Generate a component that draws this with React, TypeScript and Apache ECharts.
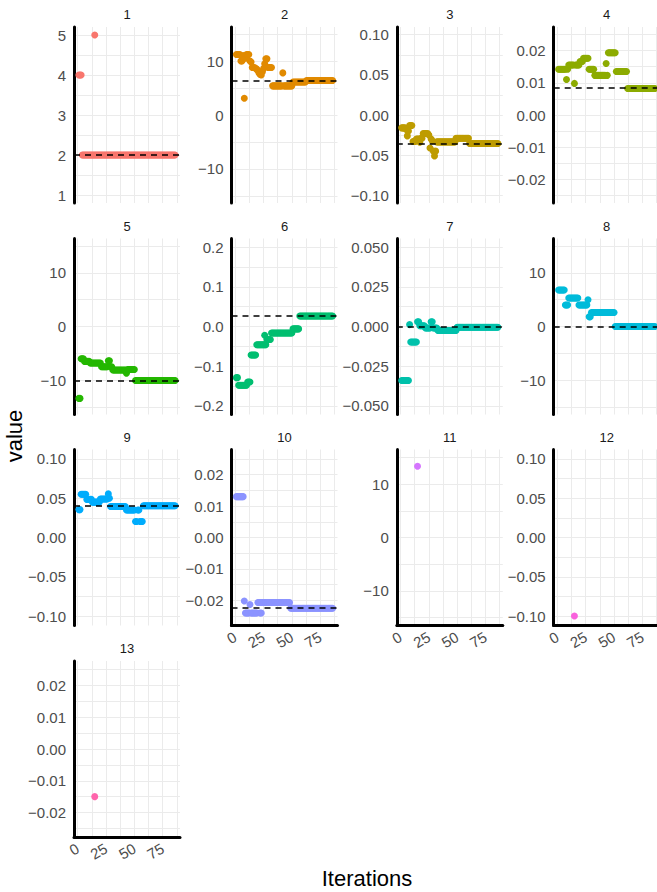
import { useEffect, useRef } from "react";
import * as echarts from "echarts";

// ---------- data ----------
const panelNames = ["1", "2", "3", "4", "5", "6", "7", "8", "9", "10", "11", "12", "13"];
const panelColors = [
  "#F8766D", "#E18A00", "#BE9C00", "#8CAB00", "#24B700", "#00BE70", "#00C1AB",
  "#00BBDA", "#00ACFC", "#8B93FF", "#D575FE", "#F962DD", "#FF65AC",
];

// value per iteration (iteration = position + 1)
const p1 = [
  4, 4, 4, 2, 2, 2, 2, 2, 2, 2,
  2, 2, 2, 2, 2, 2, 2, 2, 2, 2,
  2, 2, 2, 2, 2, 2, 2, 2, 2, 2,
  2, 2, 2, 2, 2, 2, 2, 2, 2, 2,
  2, 2, 2, 2, 2, 2, 2, 2, 2, 2,
  2, 2, 2, 2, 2, 2, 2, 2, 2, 2,
  2, 2, 2, 2, 2, 2, 2, 2, 2, 2,
  2, 2, 2, 2, 2, 2, 2, 2, 2, 2,
  2, 2, 2, 2, 2, 2,
];
const p2 = [
  11.2, 11.2, 11.2, 11.2, 10, 10, 11, 3.1, 10.5, 11.2,
  11.2, 11.2, 10, 9.8, 8.8, 8.8, 8.8, 8.6, 8.5, 8.2,
  7.8, 7.5, 7.4, 8, 8.6, 9.5, 10.4, 10.4, 8.8, 8.8,
  8.8, 8.8, 5.4, 5.4, 5.4, 5.4, 5.4, 5.4, 5.4, 5.4,
  5.4, 7.8, 5.4, 5.4, 5.4, 5.4, 5.4, 5.4, 5.4, 5.4,
  6.1, 6.1, 6.1, 6.1, 6.1, 6.1, 6.1, 6.1, 6.1, 6.1,
  6.1, 6.1, 6.4, 6.4, 6.4, 6.4, 6.4, 6.4, 6.4, 6.4,
  6.4, 6.4, 6.4, 6.4, 6.4, 6.4, 6.4, 6.4, 6.4, 6.4,
  6.4, 6.4, 6.4, 6.4, 6.4, 6.4,
];
const p3 = [
  -0.016, -0.016, -0.016, -0.016, -0.018, -0.026, -0.02, -0.013, -0.013, -0.013,
  -0.033, -0.033, -0.033, -0.03, -0.03, -0.03, -0.034, -0.029, -0.029, -0.023,
  -0.023, -0.023, -0.023, -0.023, -0.025, -0.041, -0.03, -0.032, -0.045, -0.051,
  -0.045, -0.0335, -0.0335, -0.0335, -0.0335, -0.0335, -0.0335, -0.0335, -0.0335, -0.0335,
  -0.0335, -0.0335, -0.0335, -0.0335, -0.0335, -0.0335, -0.0335, -0.0335, -0.029, -0.029,
  -0.029, -0.029, -0.029, -0.029, -0.029, -0.029, -0.029, -0.029, -0.029, -0.029,
  -0.0355, -0.0355, -0.0355, -0.0355, -0.0355, -0.0355, -0.0355, -0.0355, -0.0355, -0.0355,
  -0.0355, -0.0355, -0.0355, -0.0355, -0.0355, -0.0355, -0.0355, -0.0355, -0.0355, -0.0355,
  -0.0355, -0.0355, -0.0355, -0.0355, -0.0355, -0.0355,
];
const p4 = [
  0.0142, 0.0142, 0.0142, 0.0142, 0.0142, 0.0142, 0.0142, 0.011, 0.0142, 0.0155,
  0.0155, 0.0155, 0.0155, 0.0155, 0.0098, 0.0155, 0.0155, 0.0155, 0.0155, 0.0166,
  0.0166, 0.0166, 0.0176, 0.0176, 0.0176, 0.0176, 0.0176, 0.0142, 0.0142, 0.0142,
  0.0142, 0.0142, 0.0123, 0.0123, 0.0123, 0.0123, 0.0123, 0.0123, 0.0123, 0.0123,
  0.0123, 0.0123, 0.016, 0.0123, 0.0193, 0.0193, 0.0193, 0.0193, 0.0193, 0.0193,
  0.0193, 0.0135, 0.0135, 0.0135, 0.0135, 0.0135, 0.0135, 0.0135, 0.0135, 0.0135,
  0.0135, 0.0082, 0.0082, 0.0082, 0.0082, 0.0082, 0.0082, 0.0082, 0.0082, 0.0082,
  0.0082, 0.0082, 0.0082, 0.0082, 0.0082, 0.0082, 0.0082, 0.0082, 0.0082, 0.0082,
  0.0082, 0.0082, 0.0082, 0.0082, 0.0082, 0.0082,
];
const p5 = [
  -13.4, -13.4, -6, -6, -6, -6.5, -6.5, -6.5, -6.5, -6.5,
  -6.8, -6.8, -6.8, -6.8, -6.8, -6.8, -6.8, -6.8, -6.8, -6.8,
  -7.5, -7.5, -7.5, -7.5, -7.5, -7.5, -6.4, -6.4, -7.5, -7.5,
  -8.1, -8.1, -8.1, -8.1, -8.1, -8.1, -8.1, -8.1, -8.1, -8.1,
  -8.1, -8.1, -8.7, -8, -8, -8, -8, -8, -8, -8,
  -10.05, -10.05, -10.05, -10.05, -10.05, -10.05, -10.05, -10.05, -10.05, -10.05,
  -10.05, -10.05, -10.05, -10.05, -10.05, -10.05, -10.05, -10.05, -10.05, -10.05,
  -10.05, -10.05, -10.05, -10.05, -10.05, -10.05, -10.05, -10.05, -10.05, -10.05,
  -10.05, -10.05, -10.05, -10.05, -10.05, -10.05,
];
const p6 = [
  -0.129, -0.129, -0.148, -0.148, -0.148, -0.148, -0.148, -0.148, -0.148, -0.148,
  -0.14, -0.14, -0.14, -0.072, -0.072, -0.072, -0.072, -0.072, -0.046, -0.046,
  -0.046, -0.046, -0.046, -0.046, -0.046, -0.046, -0.046, -0.033, -0.033, -0.033,
  -0.033, -0.0165, -0.0165, -0.0165, -0.0165, -0.0165, -0.0165, -0.0165, -0.0165, -0.0165,
  -0.0165, -0.0165, -0.0165, -0.0165, -0.0165, -0.0165, -0.0165, -0.0165, -0.0165, -0.0165,
  -0.006, -0.006, -0.006, -0.006, -0.006, -0.006, 0.0266, 0.0266, 0.0266, 0.0266,
  0.0266, 0.0266, 0.0266, 0.0266, 0.0266, 0.0266, 0.0266, 0.0266, 0.0266, 0.0266,
  0.0266, 0.0266, 0.0266, 0.0266, 0.0266, 0.0266, 0.0266, 0.0266, 0.0266, 0.0266,
  0.0266, 0.0266, 0.0266, 0.0266, 0.0266, 0.0266,
];
const p7 = [
  -0.034, -0.034, -0.034, -0.034, -0.034, -0.034, -0.034, 0.0012, -0.0098, -0.0098,
  -0.0098, -0.0098, -0.0098, -0.0098, 0.003, 0.003, 0.0005, 0.0005, 0.0005, 0.0005,
  0.0005, -0.001, -0.001, -0.001, -0.001, -0.001, 0.003, 0.003, -0.001, -0.001,
  -0.001, -0.001, -0.0025, -0.0025, -0.0025, -0.0025, -0.0025, -0.0025, -0.0025, -0.0025,
  -0.0025, -0.0025, -0.0025, -0.0025, -0.0025, -0.0025, -0.0025, -0.0025, -0.0025, -0.0005,
  -0.0005, -0.0005, -0.0005, -0.0005, -0.0005, -0.0005, -0.0005, -0.0005, -0.0005, -0.0005,
  -0.0005, -0.0005, -0.0005, -0.0005, -0.0005, -0.0005, -0.0005, -0.0005, -0.0005, -0.0005,
  -0.0005, -0.0005, -0.0005, -0.0005, -0.0005, -0.0005, -0.0005, -0.0005, -0.0005, -0.0005,
  -0.0005, -0.0005, -0.0005, -0.0005, -0.0005, -0.0005,
];
const p8 = [
  6.8, 6.8, 6.8, 6.8, 6.8, 6.8, 4, 4, 4, 5.3,
  5.3, 5.3, 5.3, 5.3, 5.3, 5.3, 5.3, 5.3, 4, 4,
  4, 4, 4, 4, 4, 4, 5, 1.8, 1.8, 2.6,
  2.6, 2.6, 2.6, 2.6, 2.6, 2.6, 2.6, 2.6, 2.6, 2.6,
  2.6, 2.6, 2.6, 2.6, 2.6, 2.6, 2.6, 2.6, 2.6, 2.6,
  0, 0, 0, 0, 0, 0, 0, 0, 0, 0,
  0, 0, 0, 0, 0, 0, 0, 0, 0, 0,
  0, 0, 0, 0, 0, 0, 0, 0, 0, 0,
  0, 0, 0, 0, 0, 0,
];
const p9 = [
  0.0355, 0.0355, 0.055, 0.055, 0.055, 0.055, 0.055, 0.0485, 0.0485, 0.0485,
  0.0485, 0.0485, 0.045, 0.045, 0.045, 0.045, 0.045, 0.045, 0.045, 0.049,
  0.049, 0.049, 0.049, 0.049, 0.049, 0.049, 0.0555, 0.05, 0.0395, 0.0395,
  0.0395, 0.0395, 0.0395, 0.0395, 0.0395, 0.0395, 0.0395, 0.0395, 0.0395, 0.0395,
  0.0395, 0.0395, 0.035, 0.035, 0.035, 0.035, 0.035, 0.035, 0.035, 0.035,
  0.0204, 0.0204, 0.035, 0.035, 0.0204, 0.0204, 0.0204, 0.0405, 0.0405, 0.0405,
  0.0405, 0.0405, 0.0405, 0.0405, 0.0405, 0.0405, 0.0405, 0.0405, 0.0405, 0.0405,
  0.0405, 0.0405, 0.0405, 0.0405, 0.0405, 0.0405, 0.0405, 0.0405, 0.0405, 0.0405,
  0.0405, 0.0405, 0.0405, 0.0405, 0.0405, 0.0405,
];
const p10 = [
  0.013, 0.013, 0.013, 0.013, 0.013, 0.013, 0.013, -0.0202, -0.024, -0.024,
  -0.024, -0.024, -0.0213, -0.024, -0.024, -0.024, -0.024, -0.024, -0.024, -0.0207,
  -0.0207, -0.0207, -0.0207, -0.0207, -0.0207, -0.0207, -0.0207, -0.0207, -0.0207, -0.0207,
  -0.0207, -0.0207, -0.0207, -0.0207, -0.0207, -0.0207, -0.0207, -0.0207, -0.0207, -0.0207,
  -0.0207, -0.0207, -0.0207, -0.0207, -0.0207, -0.0207, -0.0207, -0.0207, -0.0225, -0.0225,
  -0.0225, -0.0225, -0.0225, -0.0225, -0.0225, -0.0225, -0.0225, -0.0225, -0.0225, -0.0225,
  -0.0225, -0.0225, -0.0225, -0.0225, -0.0225, -0.0225, -0.0225, -0.0225, -0.0225, -0.0225,
  -0.0225, -0.0225, -0.0225, -0.0225, -0.0225, -0.0225, -0.0225, -0.0225, -0.0225, -0.0225,
  -0.0225, -0.0225, -0.0225, -0.0225, -0.0225, -0.0225,
];
const p11: number[] = [];
const p12: number[] = [];
const p13: number[] = [];

// additional [iteration, value] points
const p1Extra = [[15, 5]];
const p6Extra = [[26, -0.022]];
const p10Extra = [[22, -0.024], [23, -0.024]];
const p11Extra = [[15, 13.35]];
const p12Extra = [[15, -0.1]];
const p13Extra = [[15, -0.015]];

const panelValues = [p1, p2, p3, p4, p5, p6, p7, p8, p9, p10, p11, p12, p13];
const panelExtras: number[][][] = [p1Extra, [], [], [], [], p6Extra, [], [], [], p10Extra, p11Extra, p12Extra, p13Extra];

// dashed reference line per panel (null = none)
const refValues = [2, 6.4, -0.0357, 0.0083, -10.05, 0.0266, -0.0003, 0, 0.0402, -0.0225, null, null, null];

// y ranges
const yMins = [0.8, -16.3, -0.1096, -0.0273, -16.4, -0.222, -0.0554, -16.4, -0.112, -0.028, -16.5, -0.112, -0.0277];
const yMaxs = [5.2, 16.3, 0.1096, 0.0273, 16.4, 0.222, 0.0554, 16.4, 0.112, 0.028, 16.5, 0.112, 0.0277];

// tick labels
const yLabelsA = [1, 2, 3, 4, 5];
const yLabelsTens = [-10, 0, 10];
const yLabelsTenth = [-0.1, -0.05, 0, 0.05, 0.1];
const yLabelsHund = [-0.02, -0.01, 0, 0.01, 0.02];
const yLabelsP6 = [-0.2, -0.1, 0, 0.1, 0.2];
const yLabelsP7 = [-0.05, -0.025, 0, 0.025, 0.05];
const yTickLabels = [yLabelsA, yLabelsTens, yLabelsTenth, yLabelsHund, yLabelsTens, yLabelsP6, yLabelsP7,
  yLabelsTens, yLabelsTenth, yLabelsHund, yLabelsTens, yLabelsTenth, yLabelsHund];
const yDecimals = [0, 0, 2, 2, 0, 1, 3, 0, 2, 2, 0, 2, 2];

// grid line values (major + minor)
const yGridA = [1, 1.5, 2, 2.5, 3, 3.5, 4, 4.5, 5];
const yGridTens = [-15, -10, -5, 0, 5, 10, 15];
const yGridTenth = [-0.1, -0.075, -0.05, -0.025, 0, 0.025, 0.05, 0.075, 0.1];
const yGridHund = [-0.025, -0.02, -0.015, -0.01, -0.005, 0, 0.005, 0.01, 0.015, 0.02, 0.025];
const yGridP6 = [-0.2, -0.15, -0.1, -0.05, 0, 0.05, 0.1, 0.15, 0.2];
const yGridP7 = [-0.05, -0.0375, -0.025, -0.0125, 0, 0.0125, 0.025, 0.0375, 0.05];
const yGridValues = [yGridA, yGridTens, yGridTenth, yGridHund, yGridTens, yGridP6, yGridP7,
  yGridTens, yGridTenth, yGridHund, yGridTens, yGridTenth, yGridHund];

const xTickLabels = [0, 25, 50, 75];
const xGridValues = [0, 12.5, 25, 37.5, 50, 62.5, 75, 87.5];
const X_MIN = -3.3;
const X_MAX = 90.3;

// ---------- layout ----------
const COL_LEFT = [74, 231.5, 396.8, 553.7];
const ROW_TOP = [27, 238.5, 449.5, 661];
const PW = 106;
const PH = 176;
const FONT = '"Liberation Sans", Arial, Helvetica, sans-serif';

function fmt(v: number, d: number) {
  const s = Math.abs(v).toFixed(d);
  return v < 0 && Math.abs(v) > 1e-12 ? "\u2212" + s : s;
}

export default function App() {
  const ref = useRef<HTMLDivElement>(null);

  useEffect(() => {
    if (!ref.current) return;
    const chart = echarts.init(ref.current, null, { renderer: "svg" });

    const grid: any[] = [];
    const xAxis: any[] = [];
    const yAxis: any[] = [];
    const series: any[] = [];
    const graphic: any[] = [];

    for (let i = 0; i < panelNames.length; i++) {
      const row = Math.floor(i / 4);
      const col = i % 4;
      const left = COL_LEFT[col];
      const top = ROW_TOP[row];
      const bottomPanel = i >= 9;

      grid.push({ left, top, width: PW, height: PH, containLabel: false, outerBoundsMode: "none" });

      xAxis.push({
        type: "value",
        gridIndex: i,
        min: X_MIN,
        max: X_MAX,
        axisLine: { show: bottomPanel, onZero: false, lineStyle: { color: "#000", width: 3 } },
        axisTick: { show: false, customValues: xGridValues },
        axisLabel: bottomPanel
          ? {
              show: true,
              customValues: xTickLabels,
              rotate: 30,
              margin: 10,
              color: "#4d4d4d",
              fontSize: 15,
              fontFamily: FONT,
              formatter: (v: number) => fmt(v, 0),
            }
          : { show: false },
        splitLine: { show: true, lineStyle: { color: "#ebebeb", width: 1 } },
      });

      const dec = yDecimals[i];
      yAxis.push({
        type: "value",
        gridIndex: i,
        min: yMins[i],
        max: yMaxs[i],
        axisLine: { show: true, onZero: false, lineStyle: { color: "#000", width: 3 } },
        axisTick: { show: false, customValues: yGridValues[i] },
        axisLabel: {
          show: true,
          customValues: yTickLabels[i],
          margin: 8,
          color: "#4d4d4d",
          fontSize: 15,
          fontFamily: FONT,
          formatter: (v: number) => fmt(v, dec),
        },
        splitLine: { show: true, lineStyle: { color: "#ebebeb", width: 1 } },
      });

      const data: number[][] = [];
      panelValues[i].forEach((v, k) => data.push([k + 1, v]));
      panelExtras[i].forEach((p) => data.push(p));

      const refV = refValues[i];
      series.push({
        type: "scatter",
        xAxisIndex: i,
        yAxisIndex: i,
        data,
        symbol: "circle",
        symbolSize: 7,
        itemStyle: { color: panelColors[i], opacity: 1 },
        silent: true,
        markLine:
          refV === null
            ? undefined
            : {
                silent: true,
                symbol: "none",
                precision: 8,
                label: { show: false },
                lineStyle: { color: "#000", type: [6, 5], width: 1.5 },
                emphasis: { disabled: true },
                data: [{ yAxis: refV }],
              },
      });

      graphic.push({
        type: "text",
        x: left + PW / 2,
        y: top - 12.5,
        style: {
          text: panelNames[i],
          fill: "#1a1a1a",
          font: `13px ${FONT}`,
          textAlign: "center",
          textVerticalAlign: "middle",
        },
      });
    }

    graphic.push({
      type: "text",
      x: 14,
      y: 436,
      rotation: Math.PI / 2,
      style: {
        text: "value",
        fill: "#000",
        font: `22px ${FONT}`,
        textAlign: "center",
        textVerticalAlign: "middle",
      },
    });
    graphic.push({
      type: "text",
      x: 367,
      y: 878,
      style: {
        text: "Iterations",
        fill: "#000",
        font: `22px ${FONT}`,
        textAlign: "center",
        textVerticalAlign: "middle",
      },
    });

    chart.setOption({
      animation: false,
      backgroundColor: "#ffffff",
      grid,
      xAxis,
      yAxis,
      series,
      graphic,
    });

    return () => chart.dispose();
  }, []);

  return (
    <div
      ref={ref}
      style={{ position: "fixed", left: 0, top: 0, width: 657, height: 892 }}
    />
  );
}
